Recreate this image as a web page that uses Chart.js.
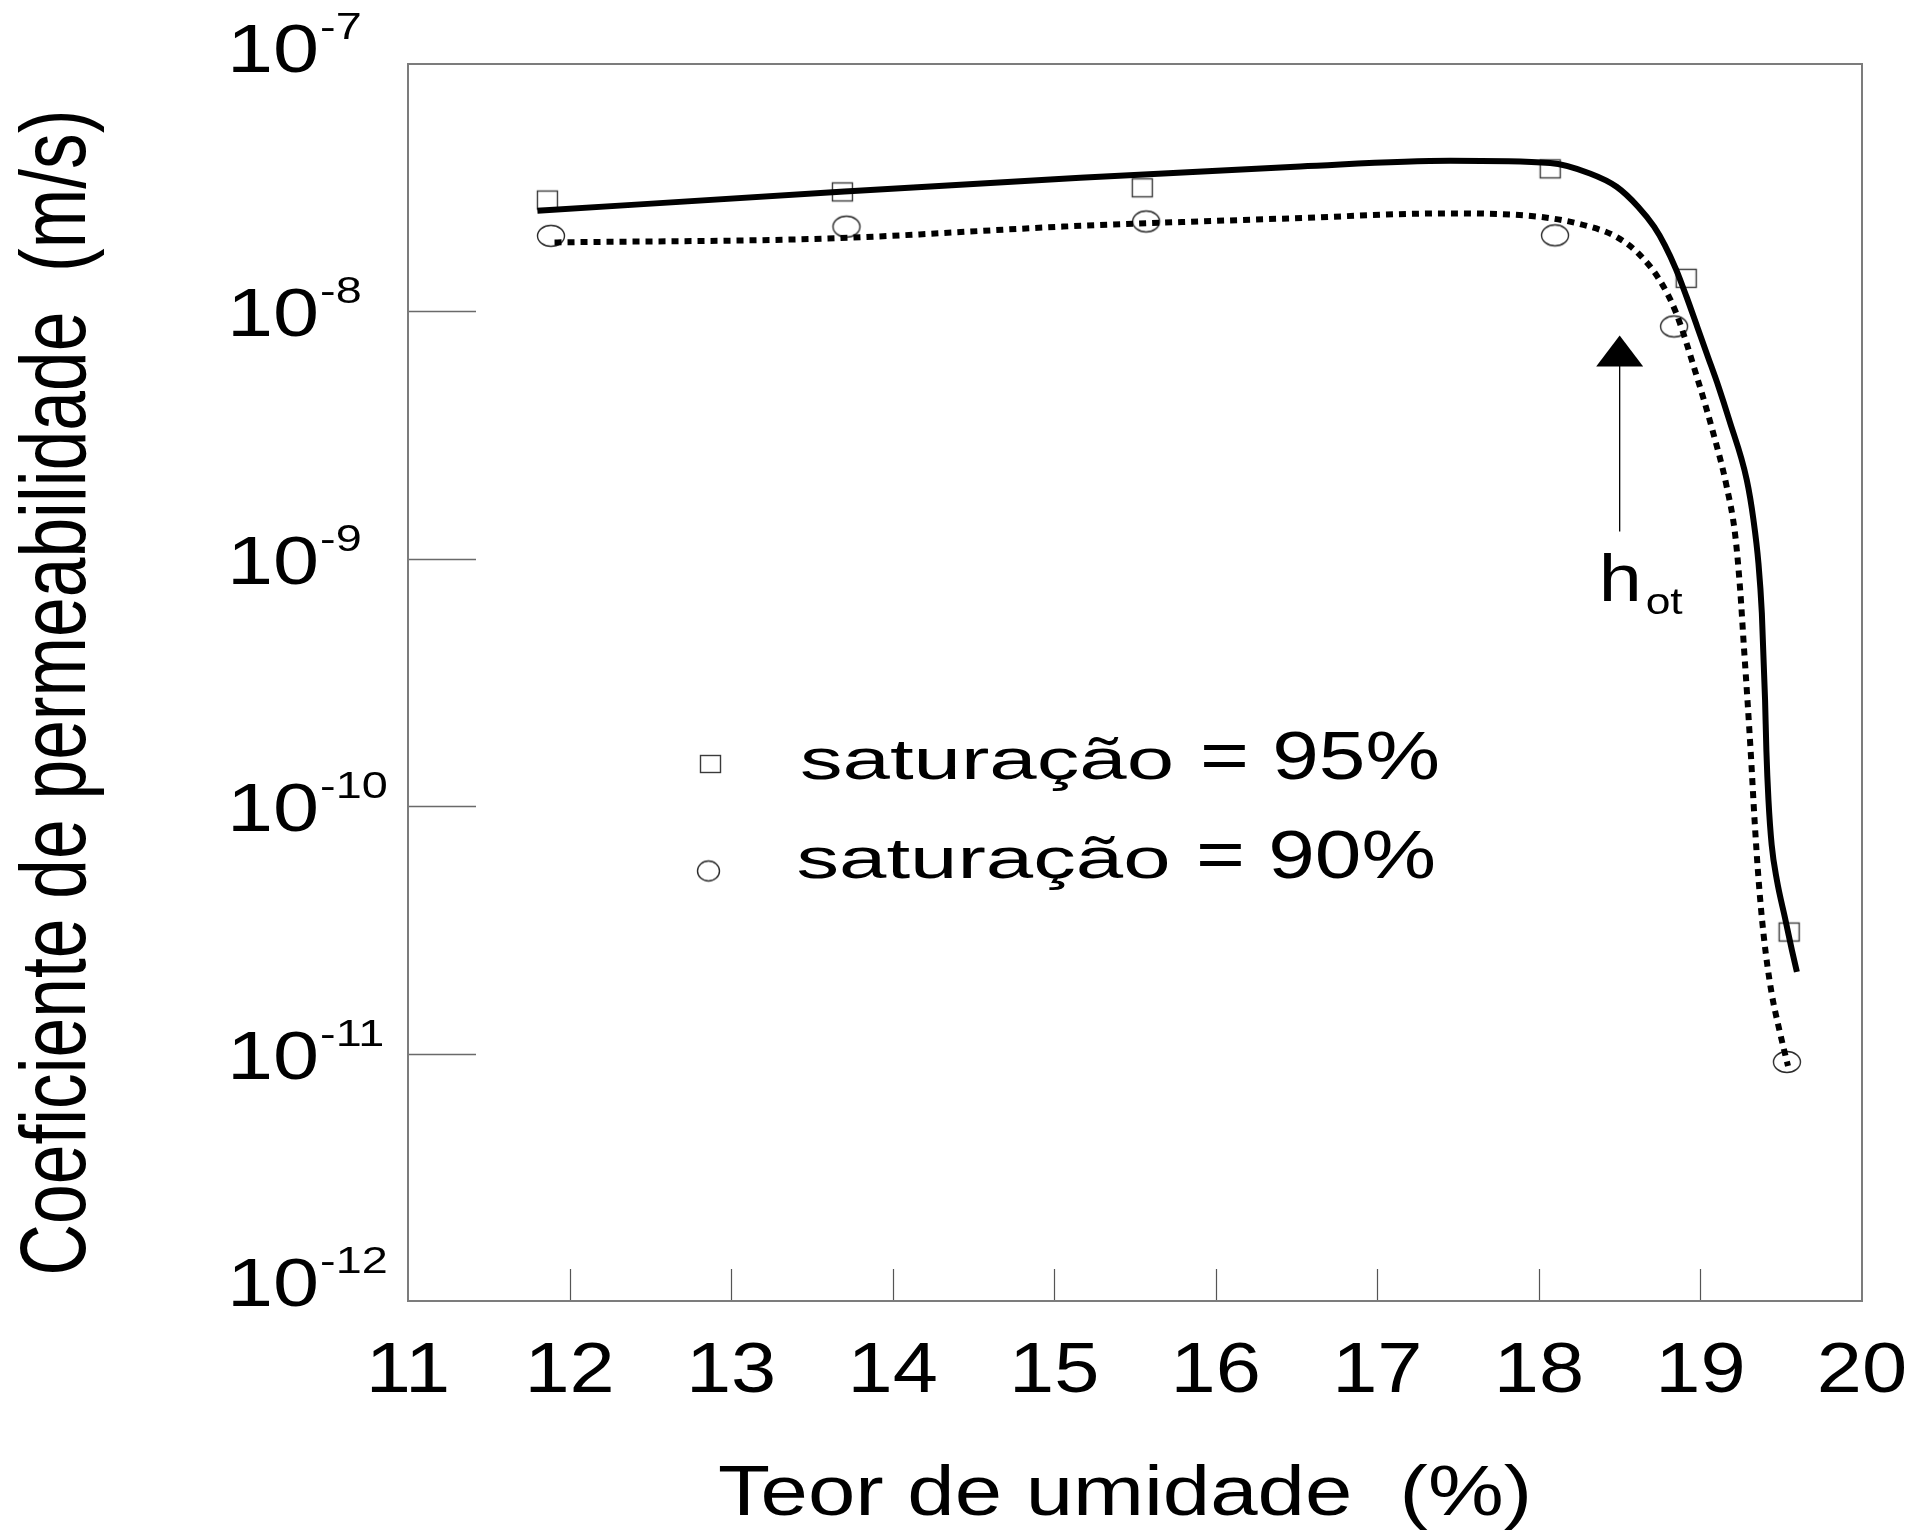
<!DOCTYPE html>
<html>
<head>
<meta charset="utf-8">
<script src="https://cdn.jsdelivr.net/npm/chart.js@4.4.0/dist/chart.umd.min.js"></script>
<style>
  html, body { margin: 0; padding: 0; background: #ffffff; }
  canvas { display: block; }
</style>
</head>
<body>
<canvas id="chart" width="1921" height="1530"></canvas>
<script>
// Permeability coefficient (m/s) versus moisture content (%), log scale
const xTickValues = [11, 12, 13, 14, 15, 16, 17, 18, 19, 20];
const yTickExponents = [-7, -8, -9, -10, -11, -12];

// measured points
const sat95X = [11.863, 13.689, 15.545, 18.070, 18.912, 19.549];
const sat95K = [2.82e-8, 3.04e-8, 3.16e-8, 3.77e-8, 1.36e-8, 3.10e-11];
const sat90X = [11.885, 13.714, 15.569, 18.100, 18.837, 19.535];
const sat90K = [2.02e-8, 2.20e-8, 2.31e-8, 2.03e-8, 8.69e-9, 9.25e-12];

// fitted trend curve, saturação = 95% (solid)
const fit95X = [11.801, 13.701, 15.161, 16.523, 17.451, 18.070, 18.316, 18.481, 18.614, 18.713,
                18.780, 18.847, 18.913, 18.980, 19.046, 19.112, 19.178, 19.287, 19.328, 19.359,
                19.380, 19.400, 19.408, 19.421, 19.441, 19.473, 19.524, 19.566, 19.597];
const fit95K = [2.55e-8, 3.05e-8, 3.47e-8, 3.85e-8, 4.06e-8, 3.98e-8, 3.61e-8, 3.19e-8, 2.65e-8, 2.20e-8,
                1.85e-8, 1.49e-8, 1.15e-8, 8.67e-9, 6.56e-9, 4.96e-9, 3.64e-9, 2.08e-9, 1.44e-9, 9.6e-10,
                6.04e-10, 2.69e-10, 1.69e-10, 1.06e-10, 6.97e-11, 5.03e-11, 3.52e-11, 2.62e-11, 2.14e-11];

// fitted trend curve, saturação = 90% (dotted)
const fit90X = [11.907, 13.592, 15.112, 16.489, 17.419, 17.983, 18.316, 18.481, 18.614, 18.747,
                18.847, 18.978, 19.080, 19.163, 19.215, 19.246, 19.269, 19.291, 19.314, 19.335,
                19.360, 19.391, 19.437, 19.493, 19.542];
const fit90K = [1.90e-8, 1.97e-8, 2.21e-8, 2.38e-8, 2.49e-8, 2.42e-8, 2.20e-8, 2.00e-8, 1.72e-8, 1.34e-8,
                9.95e-9, 5.44e-9, 3.21e-9, 1.95e-9, 1.25e-9, 7.48e-10, 4.41e-10, 2.69e-10, 1.54e-10, 8.79e-11,
                5.03e-11, 3.02e-11, 1.81e-11, 1.21e-11, 8.91e-12];

const legendNames = ['saturação', 'saturação'];
const legendValues = ['= 95%', '= 90%'];
const xTitle = 'Teor de umidade  (%)';
const yTitle = 'Coeficiente de permeabilidade  (m/s)';
// optimum moisture marker
const hotX = 18.5;
const hotTip = 8.0e-9;
const hotTail = 1.29e-9;

const FONT = '"Liberation Sans", Arial, Helvetica, sans-serif';

function toXY(xs, ys) { return xs.map((x, i) => ({ x: x, y: ys[i] })); }

// open marker glyphs
function makeSquare(w, h) {
  const c = document.createElement('canvas');
  c.width = w + 4; c.height = h + 4;
  const g = c.getContext('2d');
  g.strokeStyle = '#3a3a3a'; g.lineWidth = 1.4;
  g.strokeRect(2.5, 2.5, w - 1, h - 1);
  return c;
}
function makeEllipse(w, h) {
  const c = document.createElement('canvas');
  c.width = w + 4; c.height = h + 4;
  const g = c.getContext('2d');
  g.strokeStyle = '#2a2a2a'; g.lineWidth = 1.4;
  g.beginPath();
  g.ellipse(c.width / 2, c.height / 2, w / 2 - 0.5, h / 2 - 0.5, 0, 0, Math.PI * 2);
  g.stroke();
  return c;
}
const squareMark = makeSquare(21, 19);
const ellipseMark = makeEllipse(28, 22);
const legendSquare = makeSquare(21, 18);
const legendEllipse = makeEllipse(23, 21);

// text drawn with a horizontal stretch factor
function stretchText(ctx, text, x, y, size, sx, align) {
  ctx.save();
  ctx.font = size + 'px ' + FONT;
  ctx.textBaseline = 'alphabetic';
  ctx.textAlign = 'left';
  const w = ctx.measureText(text).width * sx;
  let x0 = x;
  if (align === 'center') x0 = x - w / 2;
  else if (align === 'right') x0 = x - w;
  ctx.translate(x0, y);
  ctx.scale(sx, 1);
  ctx.fillStyle = '#000';
  ctx.fillText(text, 0, 0);
  ctx.restore();
  return w;
}
function fitWidthText(ctx, text, x, y, size, width, align) {
  ctx.save();
  ctx.font = size + 'px ' + FONT;
  const sx = width / ctx.measureText(text).width;
  ctx.restore();
  return stretchText(ctx, text, x, y, size, sx, align);
}

const frame = {
  id: 'frame',
  afterDraw(chart) {
    const ctx = chart.ctx;
    const a = chart.chartArea;
    const xs = chart.scales.x, ys = chart.scales.y;

    // tick marks, inside the frame
    ctx.save();
    ctx.strokeStyle = '#555';
    ctx.lineWidth = 1.2;
    xTickValues.slice(1, -1).forEach(v => {
      const px = Math.round(xs.getPixelForValue(v)) + 0.5;
      ctx.beginPath(); ctx.moveTo(px, a.bottom); ctx.lineTo(px, a.bottom - 32); ctx.stroke();
    });
    ctx.strokeStyle = '#6a6a6a';
    ctx.lineWidth = 1.5;
    yTickExponents.slice(1, -1).forEach(e => {
      const py = Math.round(ys.getPixelForValue(Math.pow(10, e))) + 0.5;
      ctx.beginPath(); ctx.moveTo(a.left, py); ctx.lineTo(a.left + 68, py); ctx.stroke();
    });
    // frame
    ctx.strokeStyle = '#7c7c7c';
    ctx.lineWidth = 2;
    ctx.strokeRect(a.left, a.top, a.right - a.left, a.bottom - a.top);
    ctx.restore();

    // x tick labels
    xTickValues.forEach(v => {
      stretchText(ctx, String(v), xs.getPixelForValue(v), a.bottom + 90.5, 70, 1.16, 'center');
    });

    // y tick labels: 10 with a raised exponent
    yTickExponents.forEach((e, i) => {
      let cy = ys.getPixelForValue(Math.pow(10, e));
      if (i === 0) cy -= 17;
      if (i === yTickExponents.length - 1) cy -= 20;
      const base = cy + 25;
      const w = stretchText(ctx, '10', a.left - 181, base, 69, 1.2, 'left');
      stretchText(ctx, '-' + String(-e), a.left - 181 + w + 1, base - 33, 36, 1.3, 'left');
    });

    // axis titles
    fitWidthText(ctx, xTitle, (a.left + a.right) / 2 - 10, a.bottom + 214, 70, 814, 'center');
    ctx.save();
    ctx.translate(85, (a.top + a.bottom) / 2 + 10);
    ctx.rotate(-Math.PI / 2);
    fitWidthText(ctx, yTitle, 0, 0, 92, 1166, 'center');
    ctx.restore();

    // legend
    const lx = a.left, ly = a.top;
    ctx.drawImage(legendSquare, lx + 302.5 - legendSquare.width / 2, ly + 700 - legendSquare.height / 2);
    ctx.drawImage(legendEllipse, lx + 300.5 - legendEllipse.width / 2, ly + 807 - legendEllipse.height / 2);
    fitWidthText(ctx, legendNames[0], lx + 392, ly + 715.3, 58, 374, 'left');
    fitWidthText(ctx, legendValues[0], lx + 792, ly + 715.3, 68, 240, 'left');
    fitWidthText(ctx, legendNames[1], lx + 388.5, ly + 814.3, 58, 374, 'left');
    fitWidthText(ctx, legendValues[1], lx + 788, ly + 814.3, 68, 240, 'left');

    // h_ot arrow
    const ax = xs.getPixelForValue(hotX);
    const tipY = ys.getPixelForValue(hotTip);
    const tailY = ys.getPixelForValue(hotTail);
    ctx.save();
    ctx.fillStyle = '#000';
    ctx.beginPath();
    ctx.moveTo(ax, tipY);
    ctx.lineTo(ax + 23.5, tipY + 31);
    ctx.lineTo(ax - 23.5, tipY + 31);
    ctx.closePath();
    ctx.fill();
    ctx.strokeStyle = '#000';
    ctx.lineWidth = 1.3;
    ctx.beginPath();
    ctx.moveTo(ax, tipY + 30);
    ctx.lineTo(ax, tailY);
    ctx.stroke();
    ctx.restore();
    fitWidthText(ctx, 'h', ax - 21, tailY + 70, 67, 43, 'left');
    fitWidthText(ctx, 'ot', ax + 26, tailY + 82.5, 37, 37, 'left');
  }
};

new Chart(document.getElementById('chart'), {
  type: 'line',
  data: {
    datasets: [
      {
        label: 'saturação = 95% (ajuste)',
        data: toXY(fit95X, fit95K),
        borderColor: '#000', borderWidth: 6, cubicInterpolationMode: 'monotone',
        pointRadius: 0, fill: false, order: 0
      },
      {
        label: 'saturação = 90% (ajuste)',
        data: toXY(fit90X, fit90K),
        borderColor: '#000', borderWidth: 6, borderDash: [7, 6], cubicInterpolationMode: 'monotone',
        pointRadius: 0, fill: false, order: 0
      },
      {
        label: 'saturação = 95%',
        data: toXY(sat95X, sat95K),
        showLine: false, pointStyle: squareMark, pointRadius: 10, order: 1
      },
      {
        label: 'saturação = 90%',
        data: toXY(sat90X, sat90K),
        showLine: false, pointStyle: ellipseMark, pointRadius: 12, order: 1
      }
    ]
  },
  options: {
    responsive: false,
    animation: false,
    devicePixelRatio: 1,
    layout: { padding: { left: 408, right: 59, top: 64, bottom: 229 } },
    scales: {
      x: { type: 'linear', min: 11, max: 20, display: false },
      y: { type: 'logarithmic', min: 1e-12, max: 1e-7, display: false }
    },
    plugins: {
      legend: { display: false },
      tooltip: { enabled: false }
    }
  },
  plugins: [frame]
});
</script>
</body>
</html>
